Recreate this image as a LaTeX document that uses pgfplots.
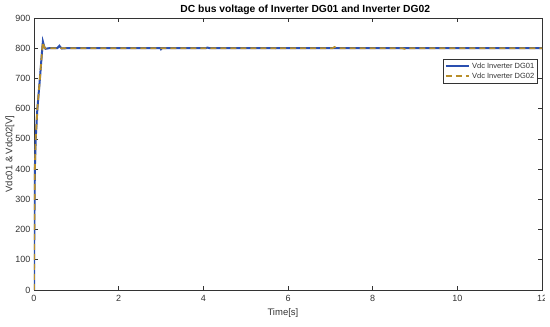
\documentclass[border=0pt]{standalone}
\usepackage{fontspec}
\setmainfont{Liberation Sans}
\usepackage{pgfplots}
\pgfplotsset{compat=1.18}
\definecolor{axisgray}{HTML}{333333}
\definecolor{dgblue}{HTML}{2A4FB0}
\definecolor{dgolive}{HTML}{B88E2A}

\begin{document}
\begin{tikzpicture}
  \begin{axis}[
      scale only axis,
      width=508pt,
      height=272pt,
      xmin=0, xmax=12,
      ymin=0, ymax=900,
      xtick={0,2,...,12},
      ytick={0,100,...,900},
      tick align=inside,
      major tick length=4pt,
      axis line style={draw=axisgray, line width=0.6pt},
      tick style={draw=axisgray, line width=0.6pt},
      /pgf/number format/assume math mode=true,
      tick label style={font=\fontsize{9}{10}\selectfont, text=axisgray},
      x tick label style={yshift=-2pt},
      title={DC bus voltage of Inverter DG01 and Inverter DG02},
      title style={font=\fontsize{10.3}{12}\selectfont\bfseries, text=black,
        at={(axis description cs:0.534,1)}, anchor=base, yshift=-1pt},
      xlabel={Time[s]},
      xlabel style={font=\fontsize{9.5}{11}\selectfont, text=axisgray,
        at={(axis description cs:0.49,0)}, anchor=center, yshift=-23pt},
      ylabel={Vdc01 \& Vdc02[V]},
      ylabel style={font=\fontsize{9.5}{11}\selectfont, text=axisgray,
        at={(axis description cs:-0.0473,0.5)}, anchor=center},
      legend style={at={(axis description cs:0.992,0.849)}, anchor=north east,
        font=\fontsize{7.5}{8.5}\selectfont, draw=axisgray, line width=0.5pt,
        inner sep=1.5pt, row sep=-1pt, text=axisgray},
      legend cell align=left,
      legend image code/.code={
        \draw[#1] plot coordinates {(0cm,0cm) (0.82cm,0cm)};
      },
    ]
    \addplot[dgblue, line width=2pt] coordinates {
      (0,0) (0.005,150) (0.02,400) (0.04,500) (0.08,600) (0.14,700)
      (0.19,790) (0.21,822) (0.24,806) (0.27,798) (0.35,800) (0.55,800)
      (0.6,808) (0.64,801) (0.66,799) (0.75,800) (1.5,800) (2.99,800)
      (3.0,797) (3.02,800) (4.05,800) (4.1,802) (4.15,800) (6,800)
      (8,800) (10,800) (12,800)
    };
    \addlegendentry{Vdc Inverter DG01}
    \addplot[dgolive, line width=1.8pt, dash pattern=on 6pt off 4pt] coordinates {
      (0,0) (0.005,150) (0.02,400) (0.04,500) (0.08,600) (0.14,700)
      (0.19,790) (0.21,820) (0.24,804) (0.27,799) (0.35,800) (1.5,800)
      (3.0,800) (4.0,800) (5.7,800) (5.75,798) (5.8,800) (7.05,800)
      (7.1,804) (7.15,800) (8.7,800) (8.75,798) (8.8,800) (10,800)
      (12,800)
    };
    \addlegendentry{Vdc Inverter DG02}
  \end{axis}
  % the reference image is cropped through the last tick label
  \fill[white] ([xshift=3pt,yshift=-1pt]current axis.south east)
    rectangle ([xshift=12pt,yshift=-40pt]current axis.south east);
  \pgfresetboundingbox
  \path ([xshift=-34pt,yshift=-37pt]current axis.south west)
    rectangle ([xshift=8pt,yshift=18pt]current axis.north east);
\end{tikzpicture}
\end{document}
